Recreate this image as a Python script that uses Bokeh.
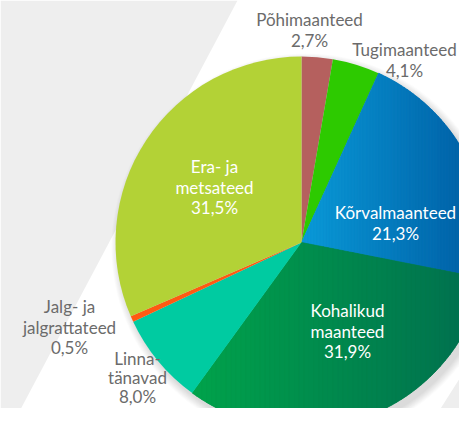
import math
from bokeh.plotting import figure
from bokeh.models import Range1d
from bokeh.core.properties import value
from bokeh.embed import file_html
from bokeh.resources import INLINE

# ---- data ----
categories = ["Põhimaanteed", "Tugimaanteed", "Kõrvalmaanteed", "Kohalikud maanteed",
              "Linnatänavad", "Jalg- ja jalgrattateed", "Era- ja metsateed"]
shares = [2.7, 4.1, 21.3, 31.9, 8.0, 0.5, 31.5]
share_labels = ["2,7%", "4,1%", "21,3%", "31,9%", "8,0%", "0,5%", "31,5%"]
label_lines = [["Põhimaanteed"], ["Tugimaanteed"], ["Kõrvalmaanteed"], ["Kohalikud", "maanteed"],
               ["Linna-", "tänavad"], ["Jalg- ja", "jalgrattateed"], ["Era- ja", "metsateed"]]
colors = ["#b5605e", "#2dca00", None, None, "#00cba1", "#ff5a12", "#b3d236"]
gradients = {2: ("#0a9ad8", "#005ea4"), 3: ("#00a34b", "#006f4f")}
inside = [False, False, True, True, False, False, True]
# label anchor positions (picture pixels, centre of first line)
label_pos = [(309, 19), (404, 49), (395, 212), (347, 310), (137, 358), (69, 306), (214, 166)]

# ---- layout ----
W, H = 459, 408
PH = 424
CX, CY, R = 301, PH - 242, 186

p = figure(width=W, height=H, output_backend="svg", toolbar_location=None,
           x_range=Range1d(0, W), y_range=Range1d(PH - H, PH),
           min_border=0, background_fill_color="white", border_fill_color="white")
p.axis.visible = False
p.grid.visible = False
p.outline_line_color = None

# background bands
p.patch([0, 237, 12, 0], [PH, PH, 0, 0], fill_color="#eeeeee", line_color=None)
p.patch([480, 430, 480], [PH - 345, 0, 0], fill_color="#eeeeee", line_color=None)

# soft shadow (offset to lower right)
for k in range(1, 10):
    p.circle(x=[CX + 4], y=[CY - 5], radius=R + k * 0.9, fill_color="black",
             fill_alpha=0.014, line_color=None)


def hex2rgb(h):
    h = h.lstrip("#")
    return tuple(int(h[i:i + 2], 16) for i in (0, 2, 4))


def lerp(c0, c1, t):
    a, b = hex2rgb(c0), hex2rgb(c1)
    return "#%02x%02x%02x" % tuple(int(round(a[i] + (b[i] - a[i]) * t)) for i in range(3))


def sector(a0, a1, n=120):
    pts = [(CX, CY)]
    for i in range(n + 1):
        a = a0 + (a1 - a0) * i / n
        pts.append((CX + R * math.cos(a), CY + R * math.sin(a)))
    return pts


def clip(poly, xv, keep_greater):
    out = []
    m = len(poly)
    for i in range(m):
        cur, prev = poly[i], poly[i - 1]
        cin = cur[0] >= xv if keep_greater else cur[0] <= xv
        pin = prev[0] >= xv if keep_greater else prev[0] <= xv
        if cin:
            if not pin:
                t = (xv - prev[0]) / (cur[0] - prev[0])
                out.append((xv, prev[1] + t * (cur[1] - prev[1])))
            out.append(cur)
        elif pin:
            t = (xv - prev[0]) / (cur[0] - prev[0])
            out.append((xv, prev[1] + t * (cur[1] - prev[1])))
    return out


total = sum(shares)
start = math.pi / 2
for i, s in enumerate(shares):
    end = start - s / total * 2 * math.pi
    if i in gradients:
        c0, c1 = gradients[i]
        poly = sector(end, start)
        xs_all = [q[0] for q in poly]
        xmin, xmax = min(xs_all), max(xs_all)
        xmax_vis = min(xmax, 475)
        p.patch([q[0] for q in poly], [q[1] for q in poly], fill_color=lerp(c0, c1, 0.5),
                line_color=None)
        nstrip = 60
        xsl, ysl, cols = [], [], []
        for k in range(nstrip):
            xa = xmin + (xmax - xmin) * k / nstrip
            xb = xmin + (xmax - xmin) * (k + 1) / nstrip
            piece = clip(clip(poly, xa, True), xb, False)
            if len(piece) < 3:
                continue
            xsl.append([q[0] for q in piece])
            ysl.append([q[1] for q in piece])
            t = ((xa + xb) / 2 - xmin) / (xmax_vis - xmin)
            cols.append(lerp(c0, c1, max(0.0, min(1.0, t))))
        p.patches(xsl, ysl, fill_color=cols, line_color=cols, line_width=0.6)
    else:
        p.wedge(x=[CX], y=[CY], radius=R, start_angle=end, end_angle=start,
                fill_color=colors[i], line_color=None)
    start = end

# labels
FONT = value("Lato")
LH = 20.5
for i in range(len(categories)):
    lines = label_lines[i] + [share_labels[i]]
    lx, ly = label_pos[i]
    col = "white" if inside[i] else "#6b6b6b"
    lh = 19 if i == 4 else LH
    ys = [PH - (ly + j * lh) for j in range(len(lines))]
    p.text(x=[lx] * len(lines), y=ys, text=lines, text_font=FONT, text_font_size="17px",
           text_color=col, text_align="center", text_baseline="middle")

open("out.html", "w").write(file_html(p, INLINE))
